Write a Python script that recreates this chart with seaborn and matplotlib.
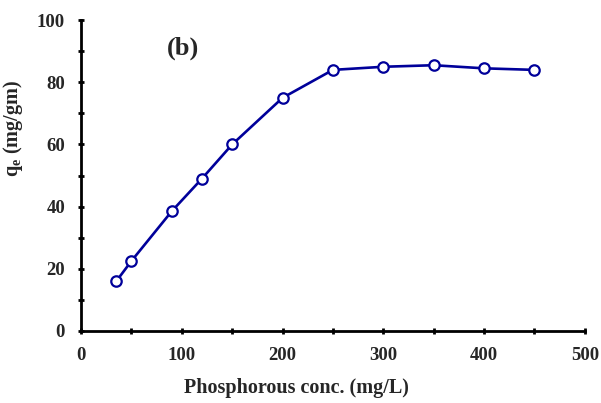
import matplotlib
matplotlib.use("Agg")
import matplotlib.pyplot as plt
import seaborn as sns
import pandas as pd
from matplotlib.ticker import MultipleLocator

conc = [35, 50, 90, 120, 150, 200, 250, 300, 350, 400, 450]
qe = [16, 22.5, 38.5, 49, 60, 75, 84, 85, 85.5, 84.5, 84]
x_ticks = [0, 100, 200, 300, 400, 500]
y_ticks = [0, 20, 40, 60, 80, 100]

df = pd.DataFrame({"conc": conc, "qe": qe})

sns.set_style("white")
plt.rcParams["font.family"] = ["Liberation Serif", "DejaVu Serif"]
plt.rcParams["font.weight"] = "bold"
plt.rcParams["mathtext.fontset"] = "custom"
plt.rcParams["mathtext.rm"] = "Liberation Serif:bold"

fig = plt.figure(figsize=(6.01, 4.03), dpi=100)
ax = fig.add_axes([0.1348, 0.1787, 0.8382, 0.7713])

line_color = "#00009a"
sns.lineplot(data=df, x="conc", y="qe", ax=ax, color=line_color, linewidth=1.9,
             marker="o", markersize=7.5, markerfacecolor="white",
             markeredgecolor=line_color, markeredgewidth=1.6)

ax.set_xlim(0, 500)
ax.set_ylim(0, 100)
ax.set_xticks(x_ticks)
ax.set_yticks(y_ticks)
ax.xaxis.set_minor_locator(MultipleLocator(50))
ax.yaxis.set_minor_locator(MultipleLocator(10))
ax.tick_params(axis="both", which="both", direction="inout", width=2,
               color="black", labelsize=13.5, pad=9,
               bottom=True, left=True, top=False, right=False)
ax.tick_params(which="major", length=5)
ax.tick_params(which="minor", length=5)
for lbl in ax.get_xticklabels() + ax.get_yticklabels():
    lbl.set_fontweight("bold")

for side in ("top", "right"):
    ax.spines[side].set_visible(False)
for side in ("left", "bottom"):
    ax.spines[side].set_color("black")
    ax.spines[side].set_linewidth(2)

ax.set_xlabel("Phosphorous conc. (mg/L)", fontsize=14.5, fontweight="bold")
ax.set_ylabel(r"q$_\mathregular{e}$ (mg/gm)", fontsize=14.5, fontweight="bold")
ax.xaxis.set_label_coords(0.427, -0.151)
ax.yaxis.set_label_coords(-0.111, 0.65)

ax.text(101, 91, "(b)", fontsize=19, fontweight="bold", ha="center", va="center")

fig.savefig("out.png", dpi=100)
